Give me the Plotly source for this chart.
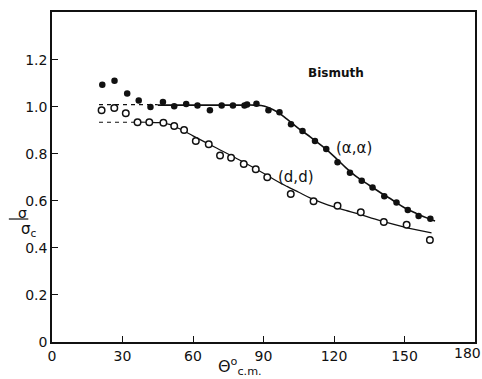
import plotly.graph_objects as go

# (alpha, alpha) measured points (filled)
alpha_x = [21.4, 26.6, 32.0, 36.9, 41.9, 47.2, 52.0, 57.1, 61.9, 67.2, 72.2, 77.0, 81.9, 83.0, 87.0,
           92.1, 96.8, 101.7, 106.6, 111.9, 116.7, 121.5, 126.8, 131.8, 136.4, 141.4, 146.6, 151.4, 156.0, 161.0]
alpha_y = [1.094, 1.111, 1.057, 1.027, 1.000, 1.021, 1.003, 1.013, 1.006, 0.986, 1.006, 1.006, 1.006, 1.010, 1.014,
           0.986, 0.977, 0.926, 0.898, 0.855, 0.821, 0.765, 0.720, 0.686, 0.657, 0.620, 0.593, 0.562, 0.536, 0.524]

# (d, d) measured points (open)
d_x = [21.1, 26.5, 31.4, 36.4, 41.4, 47.4, 52.0, 56.2, 61.2, 66.7, 71.5, 76.2, 81.6, 86.7, 91.6,
       101.6, 111.3, 121.5, 131.4, 141.2, 150.9, 160.8]
d_y = [0.986, 0.996, 0.973, 0.935, 0.935, 0.933, 0.919, 0.902, 0.855, 0.841, 0.794, 0.784, 0.757, 0.735, 0.701,
       0.630, 0.599, 0.580, 0.552, 0.511, 0.499, 0.434]

# fitted curves
alpha_fit_x = [45, 50, 60, 70, 80, 86, 89, 92, 96, 100, 105, 110, 115, 120, 125, 130, 135, 140, 145, 150, 155, 160, 163]
alpha_fit_y = [1.008, 1.008, 1.008, 1.008, 1.008, 1.008, 1.006, 0.998, 0.978, 0.948, 0.908, 0.872, 0.833, 0.790,
               0.742, 0.700, 0.667, 0.634, 0.603, 0.571, 0.547, 0.526, 0.515]
alpha_dash_x = [20, 45]
alpha_dash_y = [1.010, 1.010]

d_fit_x = [34, 40, 46, 50, 55, 60, 70, 80, 90, 96, 100, 105, 110, 115, 120, 125, 130, 140, 150, 161.5]
d_fit_y = [0.935, 0.935, 0.933, 0.926, 0.903, 0.877, 0.825, 0.773, 0.718, 0.683, 0.662, 0.637, 0.612, 0.592,
           0.575, 0.560, 0.546, 0.515, 0.489, 0.464]
d_dash_x = [20, 34]
d_dash_y = [0.935, 0.935]

x_ticks = [0, 30, 60, 90, 120, 150, 180]
x_tick_text = ["0", "30", "60", "90", "120", "150", ""]
y_ticks = [0, 0.2, 0.4, 0.6, 0.8, 1.0, 1.2]
y_tick_text = ["0", "0.2", "0.4", "0.6", "0.8", "1.0", "1.2"]

ink = "#111111"
font = "DejaVu Sans"
fig = go.Figure()
fig.add_trace(go.Scatter(x=alpha_dash_x, y=alpha_dash_y, mode="lines",
                         line=dict(color=ink, width=1.2, dash="4px,4px")))
fig.add_trace(go.Scatter(x=d_dash_x, y=d_dash_y, mode="lines",
                         line=dict(color=ink, width=1.2, dash="4px,4px")))
fig.add_trace(go.Scatter(x=alpha_fit_x, y=alpha_fit_y, mode="lines", line_shape="spline",
                         line=dict(color=ink, width=1.6)))
fig.add_trace(go.Scatter(x=d_fit_x, y=d_fit_y, mode="lines", line_shape="spline",
                         line=dict(color=ink, width=1.2)))
fig.add_trace(go.Scatter(x=alpha_x, y=alpha_y, mode="markers",
                         marker=dict(symbol="circle", size=6.5, color=ink)))
fig.add_trace(go.Scatter(x=d_x, y=d_y, mode="markers",
                         marker=dict(symbol="circle", size=6.5, color="white",
                                     line=dict(color=ink, width=1.5))))

fig.update_layout(
    width=482, height=379,
    margin=dict(l=52, r=5, t=12, b=37),
    paper_bgcolor="white", plot_bgcolor="white",
    showlegend=False,
    font=dict(family=font, color=ink, size=14),
    xaxis=dict(range=[0, 180], tickvals=x_ticks, ticktext=x_tick_text, ticks="inside", ticklen=6,
               tickcolor=ink, showline=True, linecolor=ink, linewidth=1.5, mirror=True, showgrid=False,
               zeroline=False, tickfont=dict(size=14, family=font)),
    yaxis=dict(range=[0, 1.404], tickvals=y_ticks, ticktext=y_tick_text, ticks="inside", ticklen=6,
               tickcolor=ink, showline=True, linecolor=ink, linewidth=1.5, mirror=True,
               showgrid=False, zeroline=False, tickfont=dict(size=14, family=font)),
    annotations=[
        dict(x=177, y=0, xref="x", yref="paper", yanchor="top", yshift=-1, text="180",
             showarrow=False, font=dict(size=14, family=font)),
        dict(x=120.7, y=1.144, xref="x", yref="y", text="<b>Bismuth</b>", showarrow=False,
             font=dict(size=12, family=font)),
        dict(x=128.3, y=0.825, xref="x", yref="y", text="(α,α)", showarrow=False,
             font=dict(size=15, family=font)),
        dict(x=103.8, y=0.701, xref="x", yref="y", text="(d,d)", showarrow=False,
             font=dict(size=15, family=font)),
        dict(x=-0.083, y=0.3727, xref="paper", yref="paper", yanchor="bottom", yshift=-3,
             text="σ", showarrow=False, borderpad=0, font=dict(size=14, family=font)),
        dict(x=-0.078, y=0.34, xref="paper", yref="paper", text="σ<sub>c</sub>", showarrow=False,
             font=dict(size=15, family=font)),
        dict(x=0.445, y=-0.115, xref="paper", yref="paper", text="Θ<sup>o</sup><sub>c.m.</sub>",
             showarrow=False, font=dict(size=16, family=font)),
    ],
    shapes=[dict(type="line", xref="paper", yref="paper", x0=-0.102, x1=-0.056, y0=0.3727, y1=0.3727,
                 layer="above", line=dict(color=ink, width=1.2))],
)

fig.write_html("out.html")
